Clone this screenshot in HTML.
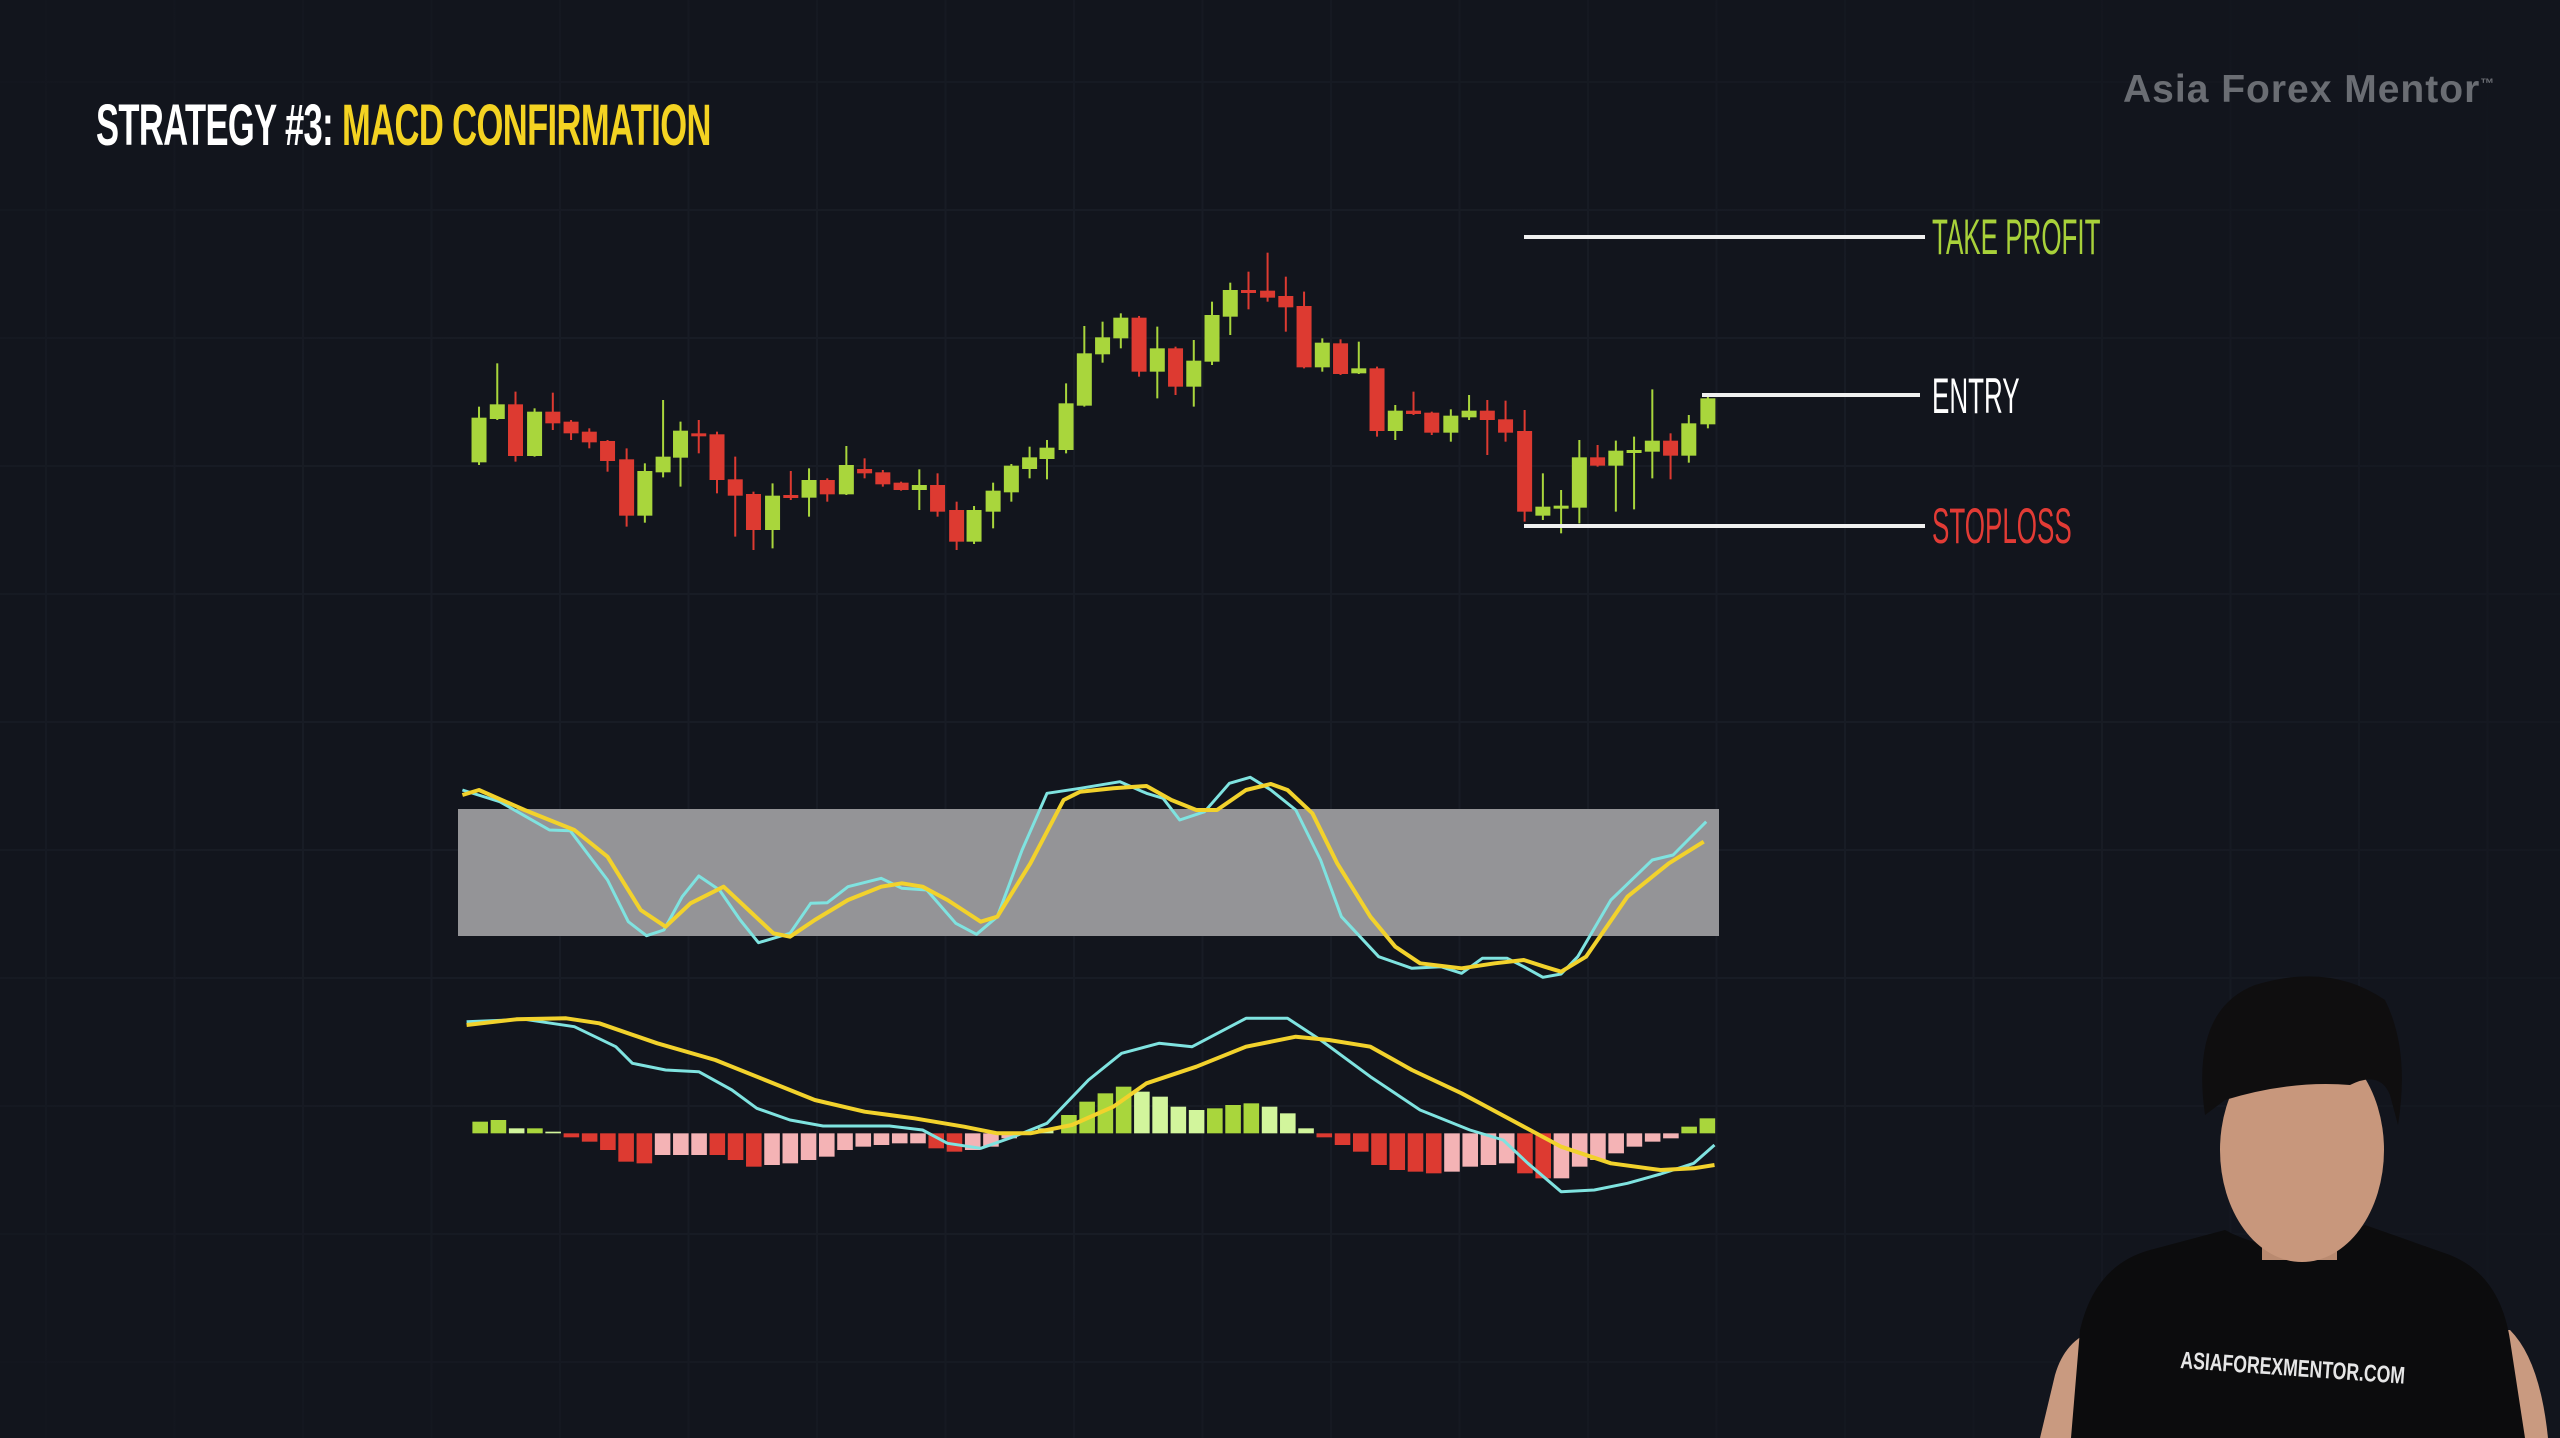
<!DOCTYPE html>
<html><head><meta charset="utf-8">
<style>
html,body{margin:0;padding:0;background:#12151d;}
#w{position:relative;width:2560px;height:1438px;overflow:hidden;background:#12151d;font-family:"Liberation Sans",sans-serif;}
svg{position:absolute;left:0;top:0;}
.t{position:absolute;white-space:nowrap;font-weight:bold;transform-origin:0 0;}
</style></head><body>
<div id="w">
<svg id="s" width="2560" height="1438" viewBox="0 0 2560 1438"></svg>
<div class="t" style="left:96px;top:92px;font-size:58px;color:#fff;transform:scaleX(0.595);letter-spacing:-1px;">STRATEGY #3: <span style="color:#f4d322">MACD CONFIRMATION</span></div>
<div class="t" style="left:2123px;top:68px;font-size:39px;color:#6a6d73;letter-spacing:1px;">Asia Forex Mentor<sup style="font-size:14px">™</sup></div>
<div class="t" style="left:1932px;top:208px;font-size:50px;color:#a8d13a;font-weight:normal;transform:scaleX(0.52);">TAKE PROFIT</div>
<div class="t" style="left:1932px;top:367px;font-size:50px;color:#ffffff;font-weight:normal;transform:scaleX(0.52);">ENTRY</div>
<div class="t" style="left:1932px;top:497px;font-size:50px;color:#e23b35;font-weight:normal;transform:scaleX(0.52);">STOPLOSS</div>
</div>
<script>
const S=document.getElementById('s');let h='';
for(let x=560-128.5*4;x<2560;x+=128.5)h+=`<line x1="${x}" y1="0" x2="${x}" y2="1438" stroke="#181c25" stroke-width="2"/>`;
for(let y=82;y<1438;y+=128)h+=`<line x1="0" y1="${y}" x2="2560" y2="${y}" stroke="#181c25" stroke-width="2"/>`;
h+=`<defs><radialGradient id="v" cx="0.45" cy="0.5" r="0.7"><stop offset="0.5" stop-color="#12151d" stop-opacity="0"/><stop offset="1" stop-color="#12151d" stop-opacity="1"/></radialGradient></defs><rect width="2560" height="1438" fill="url(#v)"/>`;
const C=[[35,533,667,'G',500,675],[57,493,537,'G',370,540],[79,493,648,'R',455,665],[102,515,648,'G',505,650],[124,515,550,'R',458,570],[146,545,580,'R',540,600],[168,575,607,'R',565,625],[190,603,663,'R',600,695],[213,658,827,'R',625,860],[235,693,827,'G',670,848],[257,650,697,'G',480,712],[278,572,653,'G',545,740],[300,580,588,'R',540,640],[322,583,720,'R',575,760],[344,718,767,'R',650,890],[366,762,870,'R',755,930],[389,767,870,'G',730,925],[411,765,773,'R',693,780],[433,720,773,'G',685,830],[455,720,763,'R',715,785],[478,675,763,'G',618,765],[500,687,700,'R',655,715],[522,697,733,'R',690,740],[544,728,750,'R',725,752],[566,735,750,'G',688,810],[588,735,815,'R',700,830],[611,810,905,'R',785,930],[632,810,905,'G',798,912],[655,752,815,'G',728,865],[677,677,757,'G',672,785],[699,652,687,'G',620,715],[720,623,657,'G',600,718],[743,490,630,'G',430,640],[765,340,497,'G',258,500],[787,292,343,'G',245,368],[809,233,295,'G',220,325],[831,233,395,'R',228,410],[853,325,395,'G',260,475],[875,325,440,'R',320,465],[897,362,440,'G',300,500],[919,225,365,'G',185,375],[941,150,230,'G',128,285],[963,150,158,'R',95,208],[986,152,173,'R',38,185],[1008,168,202,'R',110,275],[1030,198,382,'R',155,385],[1052,308,382,'G',295,395],[1074,310,402,'R',298,405],[1096,385,400,'G',305,402],[1118,385,573,'R',380,590],[1140,512,573,'G',495,600],[1162,512,522,'R',455,525],[1184,518,578,'R',515,585],[1207,527,578,'G',508,605],[1229,512,532,'G',465,540],[1251,512,540,'R',480,645],[1273,538,578,'R',482,605],[1296,573,815,'R',510,845],[1318,800,827,'G',700,840],[1340,797,803,'G',750,880],[1362,652,803,'G',600,850],[1384,652,677,'R',615,680],[1406,632,677,'G',602,815],[1428,630,635,'G',590,808],[1450,602,635,'G',448,715],[1472,602,647,'R',580,718],[1494,550,647,'G',525,668],[1517,475,553,'G',460,565]];
const X1=z=>450+z/1.206,Y1=z=>240+z/3;
for(const c of C){const x=X1(c[0]),col=c[3]=='G'?'#a9d63c':'#dd3a31';
h+=`<line x1="${x}" y1="${Y1(c[4])}" x2="${x}" y2="${Y1(c[5])}" stroke="${col}" stroke-width="2"/>`;
h+=`<rect x="${x-7.5}" y="${Y1(c[1])}" width="15" height="${Math.max(3,Y1(c[2])-Y1(c[1]))}" fill="${col}"/>`;}
h+=`<line x1="1524" y1="237" x2="1925" y2="237" stroke="#f0f0f0" stroke-width="4"/>`;
h+=`<line x1="1702" y1="395" x2="1920" y2="395" stroke="#f0f0f0" stroke-width="4"/>`;
h+=`<line x1="1524" y1="526" x2="1925" y2="526" stroke="#f0f0f0" stroke-width="4"/>`;
const X2=z=>450+z/1.206,Y2=z=>770+z/3;
h+=`<rect x="458" y="809" width="1261" height="127" fill="#949497"/>`;
const pl=(p,col,w)=>`<polyline fill="none" stroke="${col}" stroke-width="${w}" stroke-linejoin="round" points="${p.map(q=>X2(q[0]).toFixed(1)+','+Y2(q[1]).toFixed(1)).join(' ')}"/>`;
const sc=[[15,60],[60,95],[120,180],[145,182],[190,330],[215,455],[237,497],[258,480],[280,380],[300,318],[325,360],[350,450],[372,518],[410,490],[435,400],[455,398],[480,350],[520,325],[545,355],[575,360],[610,460],[635,493],[660,440],[690,240],[720,70],[760,55],[808,35],[840,70],[860,85],[880,150],[910,125],[940,40],[965,22],[990,60],[1020,120],[1050,270],[1075,440],[1120,560],[1160,595],[1195,590],[1220,610],[1245,565],[1275,565],[1295,590],[1318,622],[1340,612],[1360,560],[1400,390],[1450,270],[1475,255],[1515,155]];
const sy=[[15,75],[35,60],[90,120],[150,180],[190,260],[230,420],[260,470],[290,400],[330,350],[360,420],[390,490],[410,500],[440,450],[480,390],[520,350],[545,340],[570,350],[600,390],[640,455],[660,440],[700,280],[740,90],[760,65],[800,55],[840,48],[870,90],[900,120],[925,120],[960,60],[990,42],[1010,60],[1040,130],[1070,280],[1110,440],[1140,530],[1170,580],[1220,595],[1260,580],[1295,570],[1320,590],[1340,605],[1370,560],[1420,380],[1470,280],[1512,215]];
h+=pl(sc,'#7fe3e0',3)+pl(sy,'#f2d22c',4);
const H=[[27,35,'g'],[49,40,'g'],[71,15,'l'],[93,15,'g'],[115,5,'l'],[137,-12,'r'],[159,-25,'r'],[181,-50,'r'],[203,-85,'r'],[225,-90,'r'],[247,-65,'p'],[269,-65,'p'],[291,-65,'p'],[313,-65,'r'],[335,-80,'r'],[357,-100,'r'],[379,-95,'p'],[401,-90,'p'],[423,-80,'p'],[445,-70,'p'],[467,-50,'p'],[489,-40,'p'],[511,-35,'p'],[533,-30,'p'],[555,-30,'p'],[577,-45,'r'],[599,-55,'r'],[621,-50,'p'],[643,-40,'p'],[665,-15,'p'],[687,5,'l'],[709,15,'l'],[737,55,'g'],[759,95,'g'],[781,120,'g'],[803,140,'g'],[825,125,'l'],[847,110,'l'],[869,80,'l'],[891,70,'l'],[913,75,'g'],[935,85,'g'],[957,90,'g'],[979,80,'l'],[1001,60,'l'],[1023,15,'l'],[1045,-12,'r'],[1067,-35,'r'],[1089,-55,'r'],[1111,-95,'r'],[1133,-110,'r'],[1155,-115,'r'],[1177,-120,'r'],[1199,-115,'p'],[1221,-100,'p'],[1243,-95,'p'],[1265,-90,'p'],[1287,-120,'r'],[1309,-135,'r'],[1331,-135,'p'],[1353,-100,'p'],[1375,-80,'p'],[1397,-60,'p'],[1419,-40,'p'],[1441,-25,'p'],[1463,-15,'p'],[1485,20,'g'],[1507,45,'g']];
const HC={g:'#a9d63c',l:'#d2f59c',r:'#dd3a31',p:'#f4b3b5'};
const base=Y2(1090);
for(const b of H){const x=X2(b[0]),w=20/1.206,hh=b[1]/3;const y=hh>0?base-hh:base;h+=`<rect x="${x}" y="${y}" width="${w-1}" height="${Math.abs(hh)}" fill="${HC[b[2]]}"/>`;}
const mc=[[20,755],[90,748],[150,770],[200,830],[220,880],[260,900],[300,905],[340,960],[370,1015],[410,1050],[450,1068],[530,1068],[570,1080],[600,1120],[640,1135],[680,1100],[720,1060],[770,930],[810,850],[855,820],[895,830],[960,745],[1010,745],[1050,810],[1110,920],[1170,1020],[1230,1080],[1270,1110],[1300,1180],[1340,1265],[1380,1260],[1420,1240],[1460,1212],[1500,1180],[1525,1125]];
const my=[[20,765],[80,748],[140,745],[180,760],[250,820],[320,870],[380,930],[440,990],[500,1025],[560,1045],[620,1070],[660,1090],[700,1090],[750,1065],[800,1010],[840,940],[900,890],[960,830],[1020,800],[1060,810],[1110,830],[1160,900],[1220,970],[1280,1050],[1340,1130],[1400,1180],[1460,1200],[1500,1195],[1525,1185]];
h+=pl(mc,'#7fe3e0',3)+pl(my,'#f2d22c',4);
// person
h+=`<path d="M2040 1438 L2055 1375 Q2065 1340 2095 1330 L2510 1330 Q2540 1360 2548 1438 Z" fill="#c99a80"/>`;
h+=`<path d="M2071 1438 L2080 1330 Q2095 1265 2150 1250 L2225 1230 Q2290 1265 2365 1225 L2450 1255 Q2500 1275 2510 1340 L2525 1438 Z" fill="#0c0c0d"/>`;
h+=`<rect x="2262" y="1190" width="75" height="70" fill="#b98a70"/>`;
h+=`<ellipse cx="2302" cy="1150" rx="82" ry="112" fill="#c8977c"/>`;
h+=`<path d="M2205 1115 Q2190 1010 2255 985 Q2330 962 2385 1000 Q2410 1050 2398 1125 L2390 1095 Q2380 1070 2350 1085 Q2290 1080 2225 1100 Z" fill="#0f0e0f"/>`;
h+=`<text x="2180" y="1368" transform="rotate(4 2180 1368)" font-family="Liberation Sans,sans-serif" font-size="24" font-weight="bold" fill="#e6e6e6" textLength="225" lengthAdjust="spacingAndGlyphs">ASIAFOREXMENTOR.COM</text>`;
S.innerHTML=h;
</script>
</body></html>
